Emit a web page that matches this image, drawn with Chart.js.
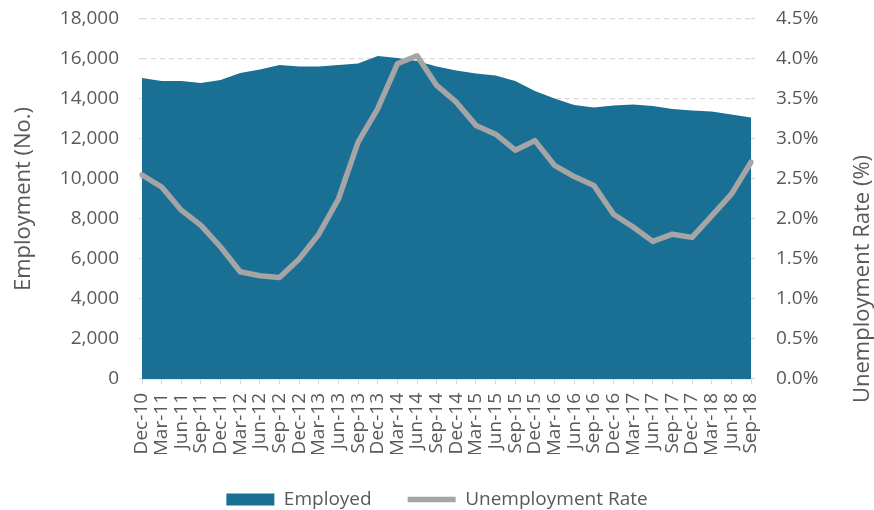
<!DOCTYPE html>
<html>
<head>
<meta charset="utf-8">
<script src="https://cdn.jsdelivr.net/npm/chart.js@4/dist/chart.umd.min.js"></script>
<style>
  html, body { margin: 0; padding: 0; background: #fff; }
  #wrap { width: 874px; height: 510px; }
</style>
</head>
<body>
<div id="wrap"><canvas id="myChart" width="874" height="510"></canvas></div>
<script>
// quarterly labels
var quarters = ["Dec-10","Mar-11","Jun-11","Sep-11","Dec-11","Mar-12","Jun-12","Sep-12",
  "Dec-12","Mar-13","Jun-13","Sep-13","Dec-13","Mar-14","Jun-14","Sep-14",
  "Dec-14","Mar-15","Jun-15","Sep-15","Dec-15","Mar-16","Jun-16","Sep-16",
  "Dec-16","Mar-17","Jun-17","Sep-17","Dec-17","Mar-18","Jun-18","Sep-18"]

// employed (No.)
var employed = [15050,14900,14900,14800,14950,15300,15470,15700,
  15630,15630,15700,15780,16150,16050,15900,15620,
  15430,15270,15180,14900,14400,14020,13700,13580,
  13680,13730,13650,13500,13430,13370,13220,13070]

// unemployment rate (%)
var unempRate = [2.55,2.40,2.11,1.92,1.65,1.34,1.29,1.27,
  1.50,1.81,2.25,2.96,3.38,3.94,4.04,3.67,
  3.46,3.17,3.06,2.86,2.98,2.67,2.53,2.42,
  2.06,1.90,1.72,1.81,1.77,2.04,2.31,2.71]

var leftTitle = "Employment (No.)"
var rightTitle = "Unemployment Rate (%)"

var FONT = "'Open Sans', 'DejaVu Sans', sans-serif"
var TXT = "#595959"
var GRID = "#d9d9d9"

// right axis title reads bottom-to-top like the left one
var rightTitlePlugin = {
  id: 'rightTitle',
  afterDraw: function(chart){
    var ctx = chart.ctx
    ctx.save()
    ctx.translate(863, 279)
    ctx.rotate(-Math.PI/2)
    ctx.font = "22px " + FONT
    ctx.fillStyle = TXT
    ctx.textAlign = 'center'
    ctx.textBaseline = 'middle'
    ctx.fillText(rightTitle, 0, 0)
    ctx.restore()
  }
}

var myChart = document.getElementById("myChart").getContext('2d')

var chart = new Chart(myChart, {
  type: 'line',
  data: {
    labels: quarters,
    datasets: [
      {
        label: "Employed",
        data: employed,
        yAxisID: 'y',
        backgroundColor: "#1a7094",
        borderColor: "#1a7094",
        borderWidth: 0,
        fill: 'origin',
        pointRadius: 0,
        tension: 0,
        order: 1,
        pointStyle: 'rect'
      },
      {
        label: "Unemployment Rate",
        data: unempRate,
        yAxisID: 'y1',
        borderColor: "#a5a5a5",
        backgroundColor: "#a5a5a5",
        borderWidth: 5.5,
        borderCapStyle: 'round',
        borderJoinStyle: 'round',
        fill: false,
        pointRadius: 0,
        tension: 0,
        order: 0,
        pointStyle: 'line'
      }
    ]
  },
  options: {
    responsive: false,
    animation: false,
    layout: { padding: { top: 19, left: 0, right: 0, bottom: -9 } },
    plugins: {
      tooltip: { enabled: false },
      legend: {
        position: 'bottom',
        labels: {
          usePointStyle: true,
          pointStyleWidth: 48,
          boxHeight: 12,
          padding: 36,
          color: TXT,
          font: { family: FONT, size: 19 },
          sort: function(a, b){ return a.datasetIndex - b.datasetIndex }
        }
      }
    },
    scales: {
      x: {
        offset: false,
        grid: { display: true, drawOnChartArea: false, tickLength: 5, color: GRID },
        border: { display: true, color: GRID, width: 1.5 },
        ticks: {
          autoSkip: false, minRotation: 90, maxRotation: 90,
          padding: 9, color: TXT, font: { family: FONT, size: 19 }
        },
        afterFit: function(scale){ scale.height = 75 }
      },
      y: {
        position: 'left',
        min: 0, max: 18000,
        grid: { color: GRID, lineWidth: 1.3, tickLength: 3 },
        border: { display: false, dash: [5, 4] },
        ticks: {
          stepSize: 2000, padding: 20, color: TXT,
          font: { family: FONT, size: 19 },
          callback: function(v){ return v.toLocaleString('en-US') }
        },
        title: {
          display: true, text: leftTitle, color: TXT,
          font: { family: FONT, size: 22, lineHeight: 1 },
          padding: { top: 13, bottom: 0 }
        },
        afterFit: function(scale){ scale.width = 142; scale.paddingTop = 0; scale.paddingBottom = 0 }
      },
      y1: {
        position: 'right',
        min: 0, max: 4.5,
        grid: { drawOnChartArea: false, color: GRID, lineWidth: 1.3, tickLength: 4 },
        border: { display: false },
        ticks: {
          stepSize: 0.5, padding: 21, color: TXT,
          font: { family: FONT, size: 19 },
          callback: function(v){ return v.toFixed(1) + '%' }
        },
        afterFit: function(scale){ scale.width = 123; scale.paddingTop = 0; scale.paddingBottom = 0 }
      }
    }
  },
  plugins: [rightTitlePlugin]
})
</script>
</body>
</html>
